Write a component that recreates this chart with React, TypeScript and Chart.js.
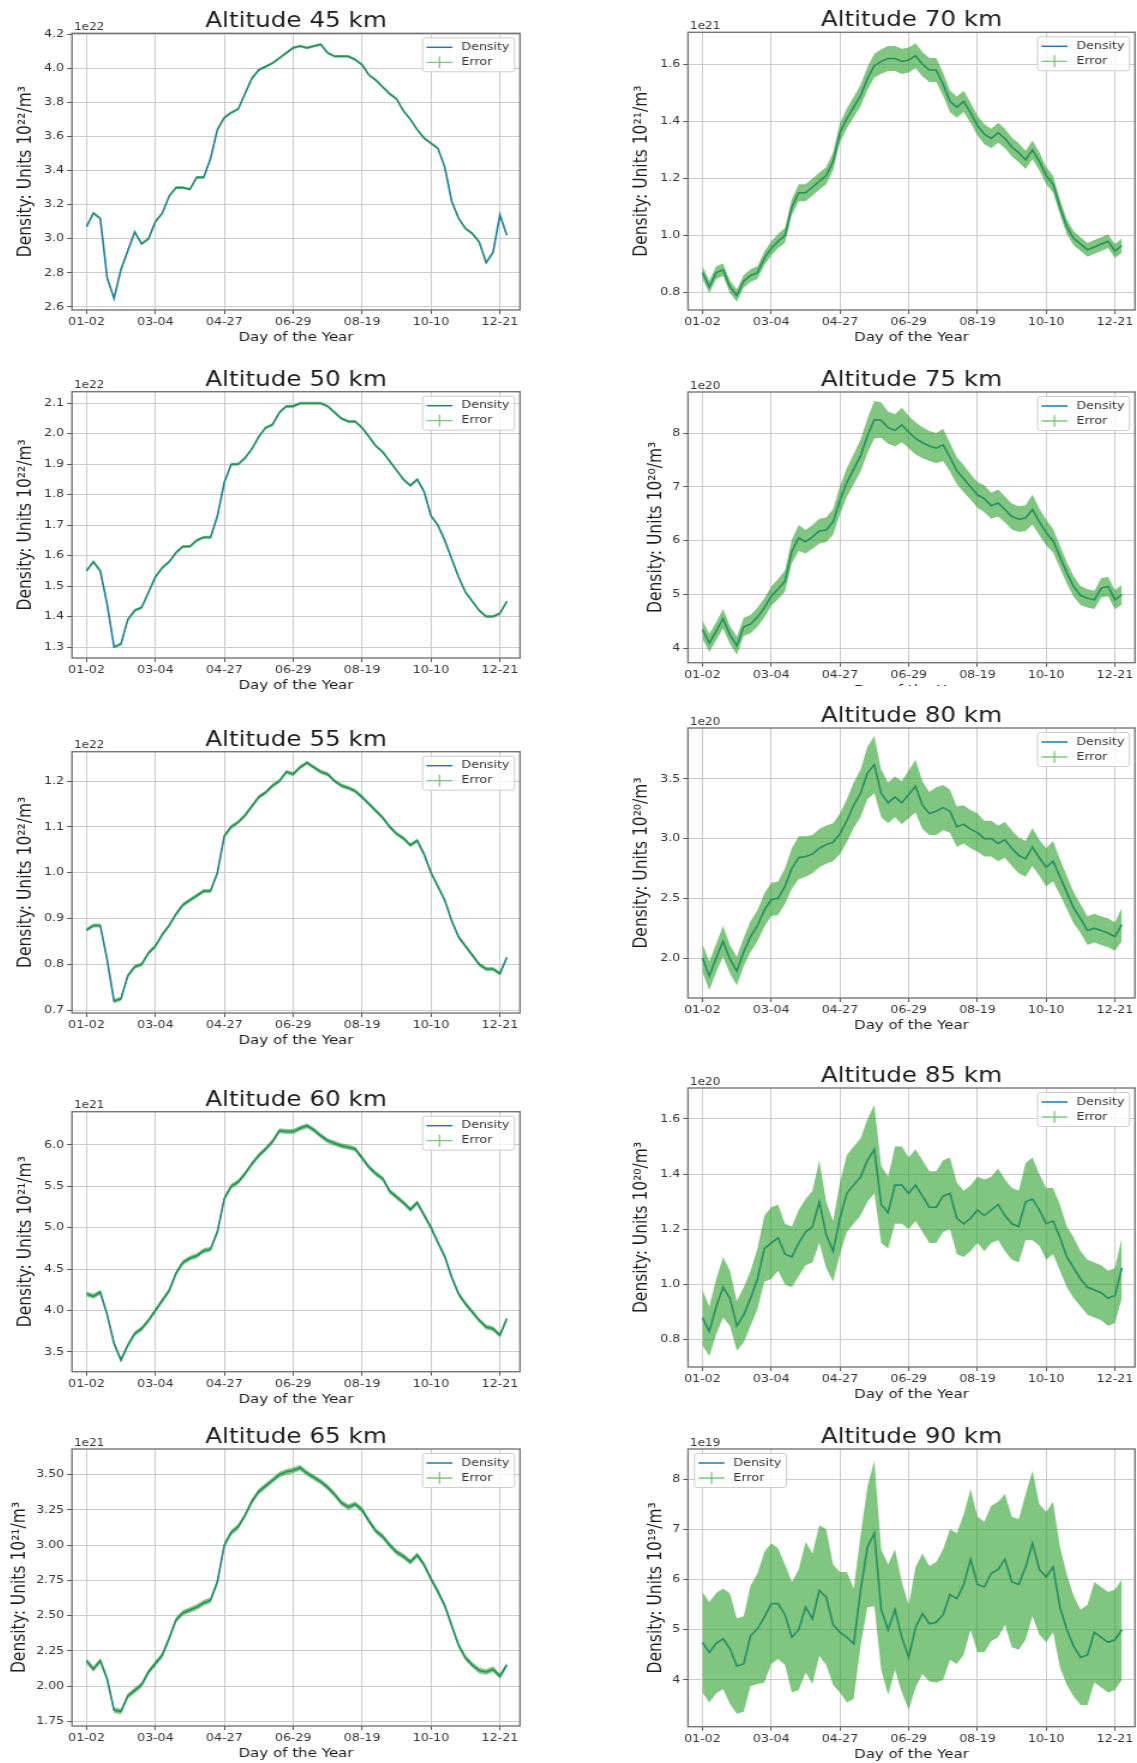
import React, { useEffect, useRef } from 'react';
import { Chart, registerables } from 'chart.js';

Chart.register(...registerables);

const FONT = '"DejaVu Sans", "Liberation Sans", sans-serif';

// ---------- x axis (sampled day index; ticks every 60) ----------
const SAMPLE_STEP = 6;
const X_TICK_VALUES = [0, 60, 120, 180, 240, 300, 360];
const X_TICK_LABELS = ['01-02', '03-04', '04-27', '06-29', '08-19', '10-10', '12-21'];
const X_MIN = -12.6;
const X_MAX = 377.5;

// ---------- density series (mantissa, units shown in the axis offset) ----------
const density45 = [
  3.07, 3.15, 3.12, 2.77, 2.65, 2.82, 2.93, 3.04, 2.97, 3.0,
  3.1, 3.15, 3.25, 3.3, 3.3, 3.29, 3.36, 3.36, 3.47, 3.64,
  3.71, 3.74, 3.76, 3.85, 3.94, 3.99, 4.01, 4.03, 4.06, 4.09,
  4.12, 4.13, 4.12, 4.13, 4.14, 4.09, 4.07, 4.07, 4.07, 4.05,
  4.02, 3.96, 3.93, 3.89, 3.85, 3.82, 3.75, 3.7, 3.64, 3.59,
  3.56, 3.53, 3.42, 3.22, 3.12, 3.06, 3.03, 2.98, 2.86, 2.92,
  3.14, 3.02,
];
const density50 = [
  1.55, 1.58, 1.55, 1.44, 1.3, 1.31, 1.39, 1.42, 1.43, 1.48,
  1.53, 1.56, 1.58, 1.61, 1.63, 1.63, 1.65, 1.66, 1.66, 1.73,
  1.84, 1.9, 1.9, 1.92, 1.95, 1.99, 2.02, 2.03, 2.07, 2.09,
  2.09, 2.1, 2.1, 2.1, 2.1, 2.09, 2.07, 2.05, 2.04, 2.04,
  2.02, 1.99, 1.96, 1.94, 1.91, 1.88, 1.85, 1.83, 1.85, 1.81,
  1.73, 1.7, 1.65, 1.59, 1.53, 1.48, 1.45, 1.42, 1.4, 1.4,
  1.41, 1.45,
];
const density55 = [
  0.875, 0.885, 0.885, 0.81, 0.72, 0.725, 0.775, 0.795, 0.8, 0.825,
  0.84, 0.865, 0.885, 0.91, 0.93, 0.94, 0.95, 0.96, 0.96, 1.0,
  1.08, 1.1, 1.11, 1.125, 1.145, 1.165, 1.175, 1.19, 1.2, 1.22,
  1.215, 1.23, 1.24, 1.23, 1.22, 1.215, 1.2, 1.19, 1.185, 1.178,
  1.165, 1.15, 1.135, 1.12, 1.1, 1.085, 1.075, 1.06, 1.07, 1.04,
  1.0, 0.97, 0.94, 0.895, 0.86, 0.84, 0.82, 0.8, 0.79, 0.79,
  0.78, 0.815,
];
const density60 = [
  4.2, 4.17, 4.22, 3.95, 3.6, 3.4, 3.58, 3.72, 3.78, 3.88,
  4.0, 4.12, 4.24, 4.45, 4.58, 4.63, 4.66, 4.72, 4.74, 4.95,
  5.35, 5.5, 5.55, 5.65, 5.77, 5.87, 5.95, 6.04, 6.17, 6.16,
  6.16, 6.2, 6.23, 6.18, 6.11, 6.05, 6.02, 5.99, 5.97, 5.95,
  5.84, 5.73, 5.65, 5.59, 5.44, 5.37, 5.3, 5.22, 5.3, 5.15,
  5.0, 4.82, 4.65, 4.4, 4.2, 4.08, 3.98, 3.88, 3.8, 3.78,
  3.7, 3.9,
];
const density65 = [
  2.18, 2.12, 2.18, 2.05, 1.83, 1.82, 1.93, 1.97, 2.01, 2.1,
  2.16, 2.22, 2.34, 2.47, 2.52, 2.54, 2.56, 2.59, 2.61, 2.74,
  3.0, 3.09, 3.13, 3.21, 3.31, 3.38, 3.42, 3.46, 3.5, 3.52,
  3.53, 3.55, 3.51, 3.48, 3.45, 3.41, 3.36, 3.3, 3.27, 3.29,
  3.25, 3.17, 3.1, 3.06, 3.0, 2.95, 2.92, 2.88, 2.93, 2.86,
  2.76, 2.67, 2.57, 2.43, 2.29, 2.2, 2.15, 2.11, 2.1, 2.12,
  2.07, 2.15,
];
const density70 = [
  0.87, 0.82, 0.87, 0.88, 0.82, 0.79, 0.84, 0.86, 0.87, 0.92,
  0.955, 0.98, 1.0, 1.1, 1.15, 1.15, 1.17, 1.19, 1.21, 1.26,
  1.36, 1.41, 1.45, 1.49, 1.55, 1.595, 1.61, 1.62, 1.62, 1.61,
  1.615, 1.63, 1.6, 1.58, 1.58, 1.53, 1.47, 1.45, 1.47, 1.43,
  1.385, 1.355, 1.34, 1.36, 1.34, 1.31, 1.29, 1.265, 1.3, 1.26,
  1.21, 1.18, 1.1, 1.03, 0.99, 0.97, 0.95, 0.96, 0.97, 0.98,
  0.945, 0.965,
];
const density75 = [
  4.35, 4.1, 4.32, 4.55, 4.25, 4.05, 4.4, 4.45, 4.58, 4.75,
  4.97, 5.1, 5.25, 5.8, 6.05, 5.98, 6.07, 6.18, 6.2, 6.35,
  6.75, 7.08, 7.33, 7.58, 7.95, 8.25, 8.24, 8.1, 8.05, 8.15,
  8.02, 7.9, 7.82, 7.76, 7.72, 7.78, 7.55, 7.3, 7.15, 7.0,
  6.85, 6.78, 6.65, 6.7, 6.58, 6.45, 6.4, 6.42, 6.58, 6.35,
  6.15, 6.0, 5.7, 5.4, 5.15, 4.98, 4.93, 4.9, 5.12, 5.15,
  4.9, 5.0,
];
const density80 = [
  2.0, 1.85, 2.0, 2.14, 1.99, 1.89, 2.05, 2.18, 2.27, 2.4,
  2.49, 2.5, 2.6, 2.75, 2.84, 2.85, 2.87, 2.92, 2.95, 2.97,
  3.04, 3.15, 3.28, 3.38, 3.55, 3.62, 3.38, 3.3, 3.35, 3.3,
  3.37, 3.44, 3.28, 3.21, 3.23, 3.26, 3.23, 3.1, 3.12, 3.08,
  3.05, 3.0, 3.0, 2.96, 2.99, 2.92, 2.86, 2.83, 2.93, 2.84,
  2.76, 2.81, 2.68, 2.55, 2.42, 2.33, 2.23, 2.25, 2.23, 2.21,
  2.18, 2.28,
];
const density85 = [
  0.88, 0.83, 0.92, 0.99, 0.95, 0.85, 0.89, 0.95, 1.02, 1.13,
  1.15, 1.17, 1.11, 1.1, 1.15, 1.19, 1.21, 1.3, 1.18, 1.12,
  1.24, 1.33, 1.36, 1.39, 1.45, 1.49, 1.29, 1.26, 1.36, 1.36,
  1.33, 1.36, 1.32, 1.28, 1.28, 1.32, 1.33, 1.24, 1.22, 1.24,
  1.27, 1.25, 1.27, 1.29, 1.25, 1.22, 1.21, 1.3, 1.31, 1.27,
  1.22, 1.23, 1.17, 1.1, 1.06, 1.02, 0.99, 0.98, 0.97, 0.95,
  0.96, 1.06,
];
const density90 = [
  4.75, 4.55, 4.73, 4.82, 4.62, 4.28, 4.32, 4.88, 5.02, 5.25,
  5.52, 5.52, 5.3, 4.85, 5.0, 5.45, 5.22, 5.78, 5.65, 5.1,
  4.95, 4.85, 4.72, 5.78, 6.65, 6.92, 5.4, 5.0, 5.4, 4.85,
  4.45, 5.05, 5.32, 5.12, 5.15, 5.3, 5.7, 5.62, 5.9, 6.4,
  5.9, 5.85, 6.12, 6.2, 6.4, 5.95, 5.9, 6.25, 6.72, 6.2,
  6.05, 6.25, 5.45, 5.0, 4.67, 4.45, 4.5, 4.95, 4.85, 4.75,
  4.8, 5.0,
];

// ---------- error half-widths ----------
const error45 = 0.008;
const error50 = 0.005;
const error55 = 0.0045;
const error60 = 0.03;
const error65 = 0.02;
const error70 = [
  0.022, 0.022, 0.022, 0.022, 0.022, 0.022, 0.022, 0.022, 0.022, 0.024,
  0.025, 0.025, 0.026, 0.028, 0.03, 0.03, 0.03, 0.03, 0.03, 0.032,
  0.034, 0.035, 0.036, 0.038, 0.04, 0.042, 0.043, 0.044, 0.044, 0.044,
  0.044, 0.044, 0.043, 0.042, 0.042, 0.04, 0.038, 0.037, 0.037, 0.036,
  0.035, 0.035, 0.034, 0.035, 0.034, 0.033, 0.033, 0.032, 0.033, 0.032,
  0.03, 0.029, 0.027, 0.026, 0.025, 0.024, 0.024, 0.024, 0.024, 0.024,
  0.024, 0.025,
];
const error75 = [
  0.17, 0.17, 0.17, 0.18, 0.17, 0.17, 0.17, 0.17, 0.18, 0.18,
  0.18, 0.19, 0.2, 0.22, 0.24, 0.22, 0.22, 0.23, 0.23, 0.24,
  0.26, 0.27, 0.28, 0.3, 0.32, 0.35, 0.33, 0.3, 0.3, 0.32,
  0.3, 0.3, 0.29, 0.28, 0.28, 0.3, 0.27, 0.25, 0.25, 0.24,
  0.24, 0.25, 0.24, 0.25, 0.24, 0.24, 0.24, 0.24, 0.28, 0.25,
  0.24, 0.22, 0.21, 0.2, 0.19, 0.18, 0.17, 0.17, 0.18, 0.18,
  0.18, 0.18,
];
const error80 = [
  0.12, 0.12, 0.12, 0.13, 0.12, 0.12, 0.12, 0.13, 0.13, 0.14,
  0.14, 0.14, 0.15, 0.17, 0.18, 0.17, 0.16, 0.16, 0.16, 0.16,
  0.17, 0.18, 0.19, 0.2, 0.22, 0.24, 0.2, 0.17, 0.17, 0.18,
  0.2, 0.22, 0.2, 0.18, 0.2, 0.19, 0.18, 0.17, 0.16, 0.16,
  0.16, 0.15, 0.15, 0.15, 0.15, 0.15, 0.15, 0.15, 0.16, 0.15,
  0.16, 0.17, 0.15, 0.14, 0.13, 0.12, 0.12, 0.12, 0.12, 0.12,
  0.12, 0.14,
];
const error85 = [
  0.1, 0.09, 0.1, 0.11, 0.1, 0.09, 0.1, 0.1, 0.11, 0.12,
  0.13, 0.12, 0.11, 0.11, 0.12, 0.12, 0.13, 0.15, 0.12, 0.11,
  0.13, 0.14, 0.14, 0.14, 0.15, 0.16, 0.14, 0.13, 0.14, 0.14,
  0.13, 0.13, 0.13, 0.13, 0.13, 0.13, 0.13, 0.13, 0.12, 0.12,
  0.12, 0.13, 0.12, 0.13, 0.13, 0.13, 0.13, 0.14, 0.15, 0.13,
  0.13, 0.12, 0.12, 0.11, 0.11, 0.1, 0.1, 0.1, 0.1, 0.1,
  0.1, 0.11,
];
const error90 = [
  1.0, 1.0, 1.0, 1.0, 1.1, 0.95, 0.95, 1.0, 1.1, 1.3,
  1.2, 1.1, 1.0, 1.1, 1.2, 1.3, 1.3, 1.3, 1.35, 1.2,
  1.2, 1.3, 1.1, 1.1, 1.2, 1.45, 1.2, 1.3, 1.2, 1.1,
  1.05, 1.2, 1.2, 1.15, 1.2, 1.3, 1.3, 1.3, 1.4, 1.4,
  1.35, 1.3, 1.35, 1.35, 1.3, 1.3, 1.3, 1.45, 1.45, 1.3,
  1.3, 1.3, 1.2, 1.1, 1.0, 0.95, 1.0, 1.0, 1.0, 1.0,
  1.0, 1.0,
];

// ---------- y tick values ----------
const yTicks45 = [2.6, 2.8, 3.0, 3.2, 3.4, 3.6, 3.8, 4.0, 4.2];
const yTicks50 = [1.3, 1.4, 1.5, 1.6, 1.7, 1.8, 1.9, 2.0, 2.1];
const yTicks55 = [0.7, 0.8, 0.9, 1.0, 1.1, 1.2];
const yTicks60 = [3.5, 4.0, 4.5, 5.0, 5.5, 6.0];
const yTicks65 = [1.75, 2.0, 2.25, 2.5, 2.75, 3.0, 3.25, 3.5];
const yTicks70 = [0.8, 1.0, 1.2, 1.4, 1.6];
const yTicks75 = [4, 5, 6, 7, 8];
const yTicks80 = [2.0, 2.5, 3.0, 3.5];
const yTicks85 = [0.8, 1.0, 1.2, 1.4, 1.6];
const yTicks90 = [4, 5, 6, 7, 8];

type PanelDef = {
  title: string;
  exponent: string;
  unitSup: string;
  values: number[];
  errors: number | number[];
  yMin: number;
  yMax: number;
  yTicks: number[];
  decimals: number;
};

const PANELS: PanelDef[] = [
  { title: 'Altitude 45 km', exponent: '1e22', unitSup: '²²', values: density45, errors: error45, yMin: 2.582, yMax: 4.205, yTicks: yTicks45, decimals: 1 },
  { title: 'Altitude 50 km', exponent: '1e22', unitSup: '²²', values: density50, errors: error50, yMin: 1.264, yMax: 2.138, yTicks: yTicks50, decimals: 1 },
  { title: 'Altitude 55 km', exponent: '1e22', unitSup: '²²', values: density55, errors: error55, yMin: 0.694, yMax: 1.264, yTicks: yTicks55, decimals: 1 },
  { title: 'Altitude 60 km', exponent: '1e21', unitSup: '²¹', values: density60, errors: error60, yMin: 3.26, yMax: 6.4, yTicks: yTicks60, decimals: 1 },
  { title: 'Altitude 65 km', exponent: '1e21', unitSup: '²¹', values: density65, errors: error65, yMin: 1.717, yMax: 3.682, yTicks: yTicks65, decimals: 2 },
  { title: 'Altitude 70 km', exponent: '1e21', unitSup: '²¹', values: density70, errors: error70, yMin: 0.739, yMax: 1.712, yTicks: yTicks70, decimals: 1 },
  { title: 'Altitude 75 km', exponent: '1e20', unitSup: '²⁰', values: density75, errors: error75, yMin: 3.733, yMax: 8.763, yTicks: yTicks75, decimals: 0 },
  { title: 'Altitude 80 km', exponent: '1e20', unitSup: '²⁰', values: density80, errors: error80, yMin: 1.665, yMax: 3.927, yTicks: yTicks80, decimals: 1 },
  { title: 'Altitude 85 km', exponent: '1e20', unitSup: '²⁰', values: density85, errors: error85, yMin: 0.701, yMax: 1.712, yTicks: yTicks85, decimals: 1 },
  { title: 'Altitude 90 km', exponent: '1e19', unitSup: '¹⁹', values: density90, errors: error90, yMin: 3.07, yMax: 8.598, yTicks: yTicks90, decimals: 0 },
];

// ---------- layout (css px of each axes box) ----------
type PanelLayout = {
  axLeft: number; axTop: number; axRight: number; axBottom: number;
  ylabelOffset: number; padTop: number; legend: 'left' | 'right'; white?: boolean;
};
const LAYOUT: PanelLayout[] = [
  { axLeft: 72, axTop: 33.3, axRight: 520, axBottom: 310, ylabelOffset: 46, padTop: 34, legend: 'right' },
  { axLeft: 72, axTop: 391.7, axRight: 520, axBottom: 658, ylabelOffset: 46, padTop: 34, legend: 'right' },
  { axLeft: 72, axTop: 751.7, axRight: 520, axBottom: 1013, ylabelOffset: 46, padTop: 34, legend: 'right' },
  { axLeft: 72, axTop: 1111.7, axRight: 520, axBottom: 1371.7, ylabelOffset: 46, padTop: 34, legend: 'right' },
  { axLeft: 72, axTop: 1449, axRight: 520, axBottom: 1726, ylabelOffset: 52, padTop: 34, legend: 'right' },
  { axLeft: 688, axTop: 32.3, axRight: 1135, axBottom: 310, ylabelOffset: 46, padTop: 34, legend: 'right' },
  { axLeft: 688, axTop: 392, axRight: 1135, axBottom: 662.7, ylabelOffset: 32, padTop: 34, legend: 'right' },
  { axLeft: 688, axTop: 728, axRight: 1135, axBottom: 998, ylabelOffset: 46, padTop: 42, legend: 'right', white: true },
  { axLeft: 688, axTop: 1088, axRight: 1135, axBottom: 1367, ylabelOffset: 46, padTop: 34, legend: 'right' },
  { axLeft: 688, axTop: 1449, axRight: 1135, axBottom: 1726.7, ylabelOffset: 32, padTop: 34, legend: 'left' },
];

const H_STRETCH = 1.2; // source panels are stretched horizontally
const PAD_LEFT = 70;
const PAD_RIGHT = 2;
const PAD_BOTTOM = 40;

const LINE_BLUE = '#1f77b4';
const BAND = 'rgba(44,160,44,0.6)';
const GRID = '#cbcbcb';
const FRAME = '#777777';
const TICK_COLOR = '#555555';
const TEXT = '#1c1c1c';
const TEXT2 = '#333333';

const errAt = (e: number | number[], i: number) => (Array.isArray(e) ? e[i] : e);

function roundRectPath(ctx: CanvasRenderingContext2D, x: number, y: number, w: number, h: number, r: number) {
  ctx.beginPath();
  ctx.moveTo(x + r, y);
  ctx.lineTo(x + w - r, y);
  ctx.quadraticCurveTo(x + w, y, x + w, y + r);
  ctx.lineTo(x + w, y + h - r);
  ctx.quadraticCurveTo(x + w, y + h, x + w - r, y + h);
  ctx.lineTo(x + r, y + h);
  ctx.quadraticCurveTo(x, y + h, x, y + h - r);
  ctx.lineTo(x, y + r);
  ctx.quadraticCurveTo(x, y, x + r, y);
  ctx.closePath();
}

function Panel({ def, layout }: { def: PanelDef; layout: PanelLayout }) {
  const ref = useRef<HTMLCanvasElement>(null);
  const canvasLeft = layout.axLeft - PAD_LEFT;
  const canvasTop = Math.round(layout.axTop - layout.padTop);
  const cssW = layout.axRight - layout.axLeft + PAD_LEFT + PAD_RIGHT;
  const cssH = Math.round(layout.axBottom + PAD_BOTTOM) - canvasTop;
  const attrW = Math.round(cssW / H_STRETCH);
  const sx = cssW / attrW;

  useEffect(() => {
    const canvas = ref.current;
    if (!canvas) return;
    const topPad = layout.axTop - canvasTop;
    const bottomPad = cssH - (layout.axBottom - canvasTop);
    const xTitleSize = 12.5;
    const xTitlePadBottom = bottomPad - 28 - (xTitleSize * 1.2) / 2;
    const yTitleSize = 15.5;
    const yTitlePadTop = (PAD_LEFT - layout.ylabelOffset) / sx - (yTitleSize * 1.2) / 2;

    const density = def.values.map((v, i) => ({ x: i * SAMPLE_STEP, y: v }));
    const upper = def.values.map((v, i) => ({ x: i * SAMPLE_STEP, y: v + errAt(def.errors, i) }));
    const lower = def.values.map((v, i) => ({ x: i * SAMPLE_STEP, y: v - errAt(def.errors, i) }));

    const decor = {
      id: 'panelDecor',
      afterDraw(chart: any) {
        const { ctx, chartArea: a } = chart;
        ctx.save();
        // frame
        ctx.strokeStyle = FRAME;
        ctx.lineWidth = 1.4;
        ctx.strokeRect(a.left, a.top, a.right - a.left, a.bottom - a.top);
        // title
        ctx.fillStyle = TEXT;
        ctx.font = `20.5px ${FONT}`;
        ctx.textAlign = 'center';
        ctx.textBaseline = 'alphabetic';
        ctx.fillText(def.title, (a.left + a.right) / 2, a.top - 6);
        // offset text
        ctx.fillStyle = TEXT2;
        ctx.font = `10px ${FONT}`;
        ctx.textAlign = 'left';
        ctx.fillText(def.exponent, a.left + 2 / sx, a.top - 3.5);
        // legend
        const bw = 92 / sx;
        const bh = 34;
        const bx = layout.legend === 'left' ? a.left + 6.5 / sx : a.right - 5.5 / sx - bw;
        const by = a.top + 4.5;
        roundRectPath(ctx, bx, by, bw, bh, 2.5);
        ctx.fillStyle = 'rgba(255,255,255,0.8)';
        ctx.fill();
        ctx.strokeStyle = '#cccccc';
        ctx.lineWidth = 1;
        ctx.stroke();
        const hx0 = bx + 4 / sx;
        const hx1 = bx + 30 / sx;
        const tx = bx + 39 / sx;
        const y1 = by + 9.5;
        const y2 = by + 24.5;
        ctx.strokeStyle = LINE_BLUE;
        ctx.lineWidth = 1.5;
        ctx.beginPath();
        ctx.moveTo(hx0, y1);
        ctx.lineTo(hx1, y1);
        ctx.stroke();
        ctx.strokeStyle = BAND;
        ctx.lineWidth = 1.3;
        ctx.beginPath();
        ctx.moveTo(hx0, y2);
        ctx.lineTo(hx1, y2);
        ctx.moveTo((hx0 + hx1) / 2, y2 - 6);
        ctx.lineTo((hx0 + hx1) / 2, y2 + 6);
        ctx.stroke();
        ctx.fillStyle = TEXT2;
        ctx.font = `10.5px ${FONT}`;
        ctx.textBaseline = 'middle';
        ctx.fillText('Density', tx, y1);
        ctx.fillText('Error', tx, y2);
        ctx.restore();
      },
    };

    const gridOpts = {
      color: GRID,
      lineWidth: 1,
      drawTicks: true,
      tickLength: 4,
      tickColor: TICK_COLOR,
      tickWidth: 1,
    };

    const chart = new Chart(canvas, {
      type: 'line',
      data: {
        datasets: [
          {
            label: 'Density',
            data: density,
            borderColor: LINE_BLUE,
            borderWidth: 1.6,
            pointRadius: 0,
            fill: false,
            tension: 0,
            order: 2,
          },
          {
            label: 'Error upper',
            data: upper,
            borderColor: 'rgba(0,0,0,0)',
            borderWidth: 1,
            pointRadius: 0,
            fill: false,
            tension: 0,
            order: 1,
          },
          {
            label: 'Error',
            data: lower,
            borderColor: 'rgba(0,0,0,0)',
            borderWidth: 1,
            backgroundColor: BAND,
            pointRadius: 0,
            fill: '-1',
            tension: 0,
            order: 1,
          },
        ],
      },
      options: {
        animation: false,
        responsive: false,
        devicePixelRatio: 1,
        events: [],
        layout: { padding: { left: 0, right: PAD_RIGHT / sx, top: topPad, bottom: 0 } },
        plugins: {
          legend: { display: false },
          title: { display: false },
          tooltip: { enabled: false },
        },
        scales: {
          x: {
            type: 'linear',
            min: X_MIN,
            max: X_MAX,
            afterBuildTicks: (s: any) => {
              s.ticks = X_TICK_VALUES.map((v) => ({ value: v }));
            },
            afterFit: (s: any) => {
              s.height = bottomPad;
            },
            grid: gridOpts,
            border: { display: false },
            ticks: {
              callback: (v: any) => X_TICK_LABELS[X_TICK_VALUES.indexOf(Number(v))] ?? '',
              font: { family: FONT, size: 10.5 },
              color: TEXT2,
              padding: 2.4,
              maxRotation: 0,
              minRotation: 0,
              autoSkip: false,
            },
            title: {
              display: true,
              text: 'Day of the Year',
              font: { family: FONT, size: xTitleSize },
              color: TEXT,
              padding: { top: 0, bottom: xTitlePadBottom },
            },
          },
          y: {
            type: 'linear',
            min: def.yMin,
            max: def.yMax,
            afterBuildTicks: (s: any) => {
              s.ticks = def.yTicks.map((v) => ({ value: v }));
            },
            afterFit: (s: any) => {
              s.width = PAD_LEFT / sx;
            },
            grid: gridOpts,
            border: { display: false },
            ticks: {
              callback: (v: any) => Number(v).toFixed(def.decimals),
              font: { family: FONT, size: 10.5 },
              color: TEXT2,
              padding: 2.5,
              autoSkip: false,
            },
            title: {
              display: true,
              text: `Density: Units 10${def.unitSup}/m³`,
              font: { family: FONT, size: yTitleSize },
              color: TEXT,
              padding: { top: yTitlePadTop, bottom: 0 },
            },
          },
        },
      },
      plugins: [decor],
    } as any);

    return () => chart.destroy();
  }, []);

  return (
    <canvas
      ref={ref}
      width={attrW}
      height={cssH}
      style={{
        position: 'absolute',
        left: canvasLeft,
        top: canvasTop,
        width: cssW,
        height: cssH,
        background: layout.white ? '#ffffff' : 'transparent',
      }}
    />
  );
}

export default function App() {
  return (
    <div
      style={{
        position: 'absolute',
        left: 0,
        top: 0,
        width: 1137,
        height: 1763,
        overflow: 'hidden',
        background: '#ffffff',
      }}
    >
      {PANELS.map((p, i) => (
        <Panel key={p.title} def={p} layout={LAYOUT[i]} />
      ))}
    </div>
  );
}
